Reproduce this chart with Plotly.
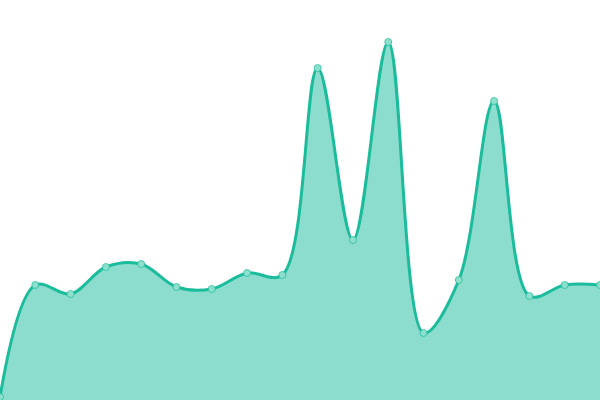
import plotly.graph_objects as go

x_vals = list(range(18))
y_vals = [3, 115, 106, 133, 136, 113, 111, 127, 125, 332, 160, 358, 67, 120, 299, 104, 115, 115]

fig = go.Figure()
fig.add_trace(go.Scatter(
    x=x_vals, y=y_vals,
    mode="lines+markers",
    line=dict(color="#1abc9c", width=3, shape="spline", smoothing=1.0),
    fill="tozeroy",
    fillcolor="rgba(26,188,156,0.5)",
    marker=dict(size=7, color="#8ee0cd", line=dict(color="rgba(26,188,156,0.7)", width=1)),
    hoverinfo="skip",
))
fig.update_layout(
    width=600, height=400,
    margin=dict(l=0, r=0, t=0, b=0),
    paper_bgcolor="white", plot_bgcolor="white",
    showlegend=False,
    xaxis=dict(range=[0, 17], visible=False),
    yaxis=dict(range=[0, 400], visible=False),
)
fig.write_html(
    "out.html",
    config={"displayModeBar": False, "staticPlot": True},
    post_script="document.body.style.margin='0';document.body.style.overflow='hidden';",
)
